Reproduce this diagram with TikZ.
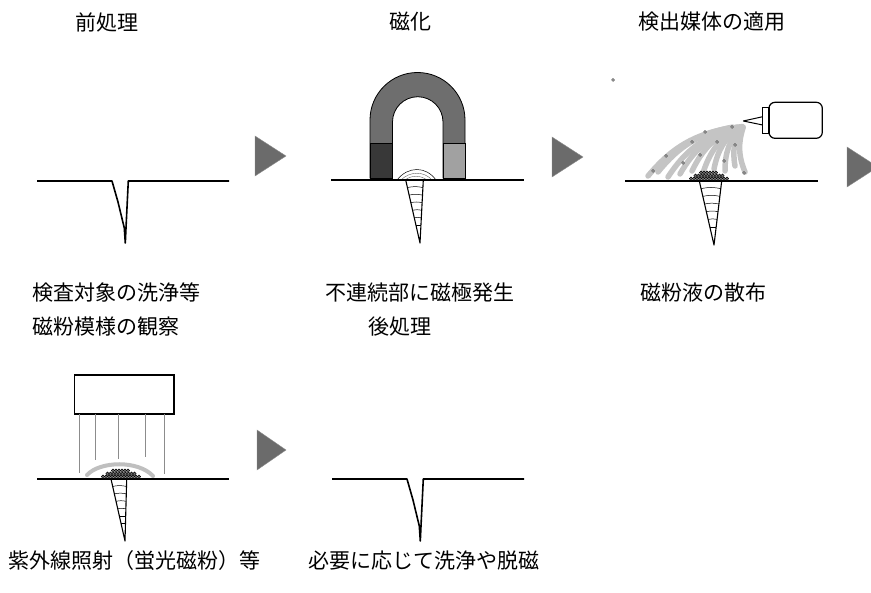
\documentclass[tikz,border=0pt]{standalone}
\usepackage{fontspec}
\setmainfont{Noto Sans CJK JP}
\usetikzlibrary{calc,positioning}

\tikzset{
  steplabel/.style={font=\fontsize{21}{25}\selectfont, inner sep=0pt},
  surface/.style={line width=1.6pt, line join=round},
  crackline/.style={line width=1.1pt, line join=round},
  hatch/.style={line width=0.5pt},
  flowarrow/.style={fill=black!58, draw=black!45, line width=0.4pt},
  spray/.style={line width=5.5pt, line cap=round, draw=black!23},
  particle/.style={draw=black!70, fill=black!25, line width=0.5pt},
  powder/.style={draw=black, fill=black!55, line width=0.4pt},
  ray/.style={line width=0.8pt, draw=black!45},
}

% tapered crack with hatching: top left, top right, tip
\newcommand{\hatchcrack}[3]{%
  \draw[crackline] (#1) -- (#3) -- (#2);
  \foreach \t in {0.12,0.24,0.36,0.48,0.6,0.72}
    \draw[hatch] ($(#1)!\t!(#3)$) to[bend left=12] ($(#2)!\t!(#3)$);
}

\begin{document}
\begin{tikzpicture}[x=1pt,y=-1pt]
  \useasboundingbox (0,0) rectangle (871,593);
  \clip (0,0) rectangle (871,593);

  % Define nodes
  \node[steplabel]               (pre)     at (107,22)  {前処理};
  \node[steplabel]               (mag)     at (410,22)  {磁化};
  \node[steplabel]               (apply)   at (712,22)  {検出媒体の適用};
  \node[steplabel, anchor=west]  (wash)    at (32,293)  {検査対象の洗浄等};
  \node[steplabel, anchor=west]  (pole)    at (325,293) {不連続部に磁極発生};
  \node[steplabel, anchor=west]  (spread)  at (640,293) {磁粉液の散布};
  \node[steplabel, below=34pt of wash.west, anchor=west] (observe) {磁粉模様の観察};
  \node[steplabel, below=34pt of pole.west, anchor=west, xshift=43pt] (post) {後処理};
  \node[steplabel, anchor=west]  (uv)      at (8,561)   {紫外線照射（蛍光磁粉）等};
  \node[steplabel, anchor=west]  (clean)   at (308,561) {必要に応じて洗浄や脱磁};

  % flow arrows
  \filldraw[flowarrow] (255,136) -- (286,156) -- (255,176) -- cycle;
  \filldraw[flowarrow] (552,137) -- (583,157) -- (552,177) -- cycle;
  \filldraw[flowarrow] (847,147) -- (878,167) -- (847,187) -- cycle;
  \filldraw[flowarrow] (257,430) -- (286,450) -- (257,470) -- cycle;

  % bare crack (before and after)
  \foreach \dx/\dy in {0/0, 295/298}
    \draw[surface, shift={(\dx,\dy)}] (37,181) -- (112,181) -- (118,202) -- (124.3,228)
      -- (125.3,243) -- (126,228) -- (128.3,181) -- (229,181);

  % magnet
  \filldraw[fill=black!57, line width=0.8pt] (370,178) -- (370,120)
    arc[start angle=180, end angle=360, radius=47.5] -- (465,178) -- (443,178) -- (443,122)
    arc[start angle=0, end angle=-180, radius=25.25] -- (392.5,178) -- cycle;
  \filldraw[fill=black!78, line width=0.8pt] (370,143) rectangle (392.5,178);
  \filldraw[fill=black!37, line width=0.8pt] (443,143) rectangle (465,178);
  \draw[line width=0.5pt] (397,180) .. controls (408,166) and (426,166) .. (436,180);
  \draw[line width=0.4pt, black!60] (401,180) .. controls (410,171) and (424,171) .. (432,180);
  \draw[line width=0.4pt, black!60] (405,180) .. controls (412,175) and (420,175) .. (427,180);
  \draw[line width=1.2pt] (331,180) -- (524,180);
  \hatchcrack{405.7,180}{423.3,180}{420,243}

  % spray bottle and spray
  \coordinate (nozzle) at (743,121);
  \foreach \ex/\ey in {648/176, 658/172, 668/177, 680/174, 692/171, 703/173, 714/169,
                       725/171, 735/166, 745/172}
    \draw[spray] ($(nozzle)!0.12!(\ex,\ey)$) to[bend right=20] (\ex,\ey);
  \foreach \px/\py in {653/171, 666/156, 683/163, 692/142, 700/155, 705/132, 717/142,
                       724/161, 732/127, 735/145, 744/173, 613/80}
    \filldraw[particle] (\px,\py) circle[radius=1.4];
  \draw[line width=1.2pt, rounded corners=6pt] (769,102.3) rectangle (822.3,138.3);
  \draw[line width=1.2pt] (762.7,107.7) rectangle (769,133.3);
  \draw[line width=1pt, line join=round] (762.7,116.7) -- (743.3,121) -- (762.7,125);
  \draw[line width=1.2pt] (625,181) -- (818,181);
  \hatchcrack{699.3,181}{721.7,181}{714,245}

  % UV lamp
  \draw[line width=1.5pt] (74.3,375) rectangle (174,414);
  \foreach \rx/\ry in {79.3/473, 95.7/460, 118.3/459, 145.7/457, 164/474}
    \draw[ray] (\rx,414) -- (\rx,\ry);
  \draw[line width=4pt, black!25, line cap=round] (87,475) .. controls (100,461) and (138,460) .. (153,476);
  \draw[line width=1.2pt] (37,479) -- (229,479);
  \hatchcrack{111,479}{126.7,479}{125,541}

  % powder piled on the crack
  \foreach \cx/\cy in {709/181, 121/479} {
    \begin{scope}[shift={(\cx,\cy)}]
      \foreach \px in {-18,-15,...,18}
        \filldraw[powder] (\px,-2.3) circle[radius=1.7];
      \foreach \px in {-13.5,-10.5,...,14}
        \filldraw[powder] (\px,-5.3) circle[radius=1.7];
      \foreach \px in {-8,-5,...,9}
        \filldraw[powder] (\px,-8.3) circle[radius=1.7];
    \end{scope}
  }

\end{tikzpicture}
\end{document}
